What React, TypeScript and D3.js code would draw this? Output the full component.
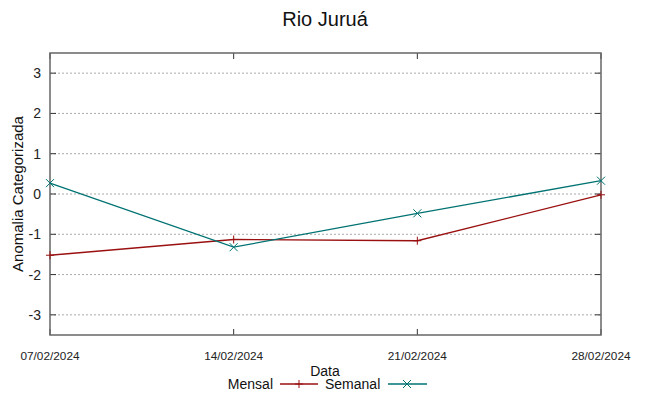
import * as d3 from "d3";
import { useEffect, useRef } from "react";

const dates = ["07/02/2024", "14/02/2024", "21/02/2024", "28/02/2024"];
const mensal = [-1.52, -1.13, -1.16, -0.02];
const semanal = [0.27, -1.32, -0.48, 0.33];
const yTicks = [-3, -2, -1, 0, 1, 2, 3];

const width = 649;
const height = 396;
const margin = { top: 53, right: 48, bottom: 61, left: 50 };

export default function App() {
  const svgRef = useRef<SVGSVGElement>(null);

  useEffect(() => {
    if (!svgRef.current) return;
    const svg = d3.select(svgRef.current);
    svg.selectAll("*").remove();

    const font = "'Liberation Sans', Arial, sans-serif";
    const x = d3
      .scalePoint<string>()
      .domain(dates)
      .range([margin.left, width - margin.right]);
    const y = d3
      .scaleLinear()
      .domain([-3.5, 3.5])
      .range([height - margin.bottom, margin.top]);

    const [x0, x1] = x.range();
    const [y0, y1] = [y(-3.5), y(3.5)];

    // grid
    svg
      .append("g")
      .selectAll("line")
      .data(yTicks)
      .join("line")
      .attr("x1", x0)
      .attr("x2", x1)
      .attr("y1", (d) => y(d))
      .attr("y2", (d) => y(d))
      .attr("stroke", "#aaa")
      .attr("stroke-width", 1)
      .attr("stroke-dasharray", "2,2");

    // y ticks
    const yt = svg.append("g");
    yTicks.forEach((t) => {
      yt.append("line").attr("x1", x0).attr("x2", x0 + 6).attr("y1", y(t)).attr("y2", y(t)).attr("stroke", "#333");
      yt.append("line").attr("x1", x1).attr("x2", x1 - 6).attr("y1", y(t)).attr("y2", y(t)).attr("stroke", "#333");
      yt.append("text")
        .attr("x", x0 - 9)
        .attr("y", y(t) + 5)
        .attr("text-anchor", "end")
        .attr("font-family", font)
        .attr("font-size", 14)
        .attr("fill", "#222")
        .text(t);
    });

    // x ticks
    const xt = svg.append("g");
    dates.forEach((dt) => {
      const px = x(dt)!;
      xt.append("line").attr("x1", px).attr("x2", px).attr("y1", y0).attr("y2", y0 - 6).attr("stroke", "#333");
      xt.append("line").attr("x1", px).attr("x2", px).attr("y1", y1).attr("y2", y1 + 6).attr("stroke", "#333");
      xt.append("text")
        .attr("x", px)
        .attr("y", 360)
        .attr("text-anchor", "middle")
        .attr("font-family", font)
        .attr("font-size", 11.8)
        .attr("fill", "#222")
        .text(dt);
    });

    // border
    svg
      .append("rect")
      .attr("x", x0)
      .attr("y", y1)
      .attr("width", x1 - x0)
      .attr("height", y0 - y1)
      .attr("fill", "none")
      .attr("stroke", "#666")
      .attr("stroke-width", 1.5);

    const line = d3
      .line<number>()
      .x((_, i) => x(dates[i])!)
      .y((d) => y(d));

    const series = [
      { name: "Mensal", values: mensal, color: "#9a1010", mark: "plus" },
      { name: "Semanal", values: semanal, color: "#007272", mark: "cross" },
    ];

    const drawMark = (g: any, cx: number, cy: number, mark: string, color: string) => {
      const s = 4;
      if (mark === "plus") {
        g.append("path")
          .attr("d", `M${cx - s},${cy}H${cx + s}M${cx},${cy - s}V${cy + s}`)
          .attr("stroke", color)
          .attr("stroke-width", 1);
      } else {
        g.append("path")
          .attr("d", `M${cx - s},${cy - s}L${cx + s},${cy + s}M${cx - s},${cy + s}L${cx + s},${cy - s}`)
          .attr("stroke", color)
          .attr("stroke-width", 1);
      }
    };

    series.forEach((s) => {
      const g = svg.append("g");
      g.append("path")
        .attr("d", line(s.values)!)
        .attr("fill", "none")
        .attr("stroke", s.color)
        .attr("stroke-width", 1.3);
      s.values.forEach((v, i) => drawMark(g, x(dates[i])!, y(v), s.mark, s.color));
    });

    // title
    svg
      .append("text")
      .attr("x", 325)
      .attr("y", 26)
      .attr("text-anchor", "middle")
      .attr("font-family", font)
      .attr("font-size", 20)
      .attr("fill", "#111")
      .text("Rio Juruá");

    // axis labels
    svg
      .append("text")
      .attr("x", 325)
      .attr("y", 376)
      .attr("text-anchor", "middle")
      .attr("font-family", font)
      .attr("font-size", 14)
      .attr("fill", "#111")
      .text("Data");
    svg
      .append("text")
      .attr("transform", `translate(23,${(y0 + y1) / 2}) rotate(-90)`)
      .attr("text-anchor", "middle")
      .attr("font-family", font)
      .attr("font-size", 15)
      .attr("fill", "#111")
      .text("Anomalia Categorizada");

    // legend
    const leg = svg.append("g");
    leg.append("text")
      .attr("x", 273)
      .attr("y", 389)
      .attr("text-anchor", "end")
      .attr("font-family", font)
      .attr("font-size", 14)
      .attr("fill", "#111")
      .text("Mensal");
    leg.append("line").attr("x1", 280).attr("x2", 318).attr("y1", 384).attr("y2", 384).attr("stroke", series[0].color).attr("stroke-width", 1.3);
    drawMark(leg, 299, 384, "plus", series[0].color);
    leg.append("text")
      .attr("x", 325)
      .attr("y", 389)
      .attr("text-anchor", "start")
      .attr("font-family", font)
      .attr("font-size", 14)
      .attr("fill", "#111")
      .text("Semanal");
    leg.append("line").attr("x1", 388).attr("x2", 427).attr("y1", 384).attr("y2", 384).attr("stroke", series[1].color).attr("stroke-width", 1.3);
    drawMark(leg, 407, 384, "cross", series[1].color);
  }, []);

  return (
    <svg
      ref={svgRef}
      width={width}
      height={height}
      style={{ position: "absolute", left: 0, top: 0, background: "#fff", display: "block" }}
    />
  );
}
